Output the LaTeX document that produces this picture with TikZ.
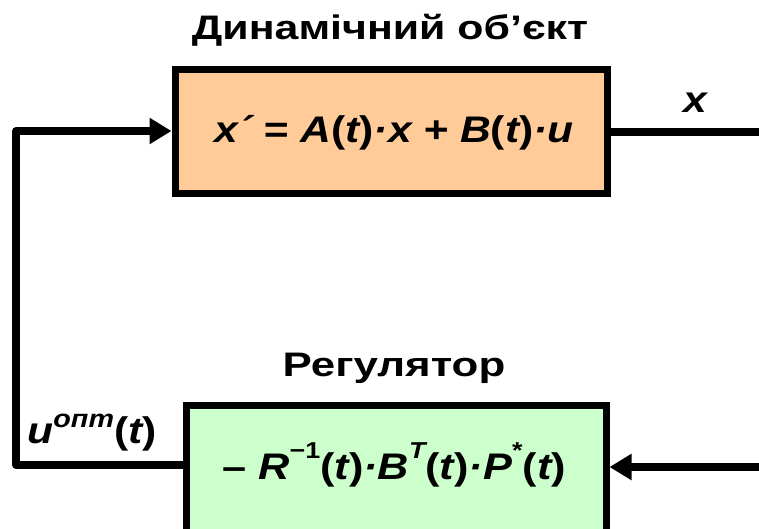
\documentclass[tikz,border=0pt]{standalone}
\usepackage{fontspec}
\setmainfont{Liberation Sans}
\usetikzlibrary{arrows.meta}
\definecolor{peach}{HTML}{FFCC99}
\definecolor{mint}{HTML}{CCFFCC}
\tikzset{
  blockbox/.style={draw=black, line width=7pt, inner sep=0pt, outer sep=3.5pt},
  wire/.style={line width=7.5pt, line join=round, draw=black},
  arrowwire/.style={wire, -{Triangle[length=22pt,width=25pt]}},
  titletext/.style={font=\fontsize{34}{38}\selectfont\bfseries, inner sep=0pt, anchor=base},
  formtext/.style={font=\fontsize{37}{40}\selectfont\bfseries\itshape, inner sep=0pt, anchor=base},
}
\newcommand{\supr}[3]{\raisebox{#1}{\fontsize{#2}{24}\selectfont #3}}
\newcommand{\up}[1]{{\upshape #1}}
\begin{document}
\begin{tikzpicture}[x=1pt,y=-1pt]
\useasboundingbox (0,0) rectangle (759,528);
\begin{scope}
\clip (0,0) rectangle (759,528);
% boxes
\node[blockbox, fill=peach, minimum width=432pt, minimum height=124pt] (top) at (391,131) {};
\node[blockbox, fill=mint, minimum width=420pt, minimum height=170pt] (bot) at (396,490) {};
% formulas
\node[formtext] (topf) at (394,142)
  {\scalebox{1.15}[1]{x´ = A\up{(}t\up{)}·x + B\up{(}t\up{)}·u}};
\node[formtext] (botf) at (394,479)
  {\scalebox{1.17}[1]{\up{–} R\supr{21pt}{23}{\upshape −1}\up{(}t\up{)}·B\supr{21pt}{23}{T}\up{(}t\up{)}·P\supr{21pt}{23}{\upshape *}\up{(}t\up{)}}};
% titles
\node[titletext] (t1) at (390,39) {\scalebox{1.26}[1]{Динамічний об’єкт}};
\node[titletext] (t2) at (394,376) {\scalebox{1.29}[1]{Регулятор}};
% coordinates
\coordinate (xr) at (759,132);
\coordinate (br) at (759,467);
\coordinate (ul) at (16,131);
\coordinate (ll) at (16,465);
% connectors
\draw[wire] (top.east |- xr) -- (xr);
\draw[arrowwire] (br) -- (br -| bot.east);
\draw[arrowwire] (ll -| bot.west) -- (ll) -- (ul) -- (top.west);
% labels
\node[formtext] (xl) at (695,112) {\scalebox{1.15}[1]{x}};
\node[formtext] (ul2) at (92,443) {\scalebox{1.15}[1]{u\supr{16pt}{25}{опт}\up{(}t\up{)}}};
\end{scope}
\end{tikzpicture}
\end{document}
